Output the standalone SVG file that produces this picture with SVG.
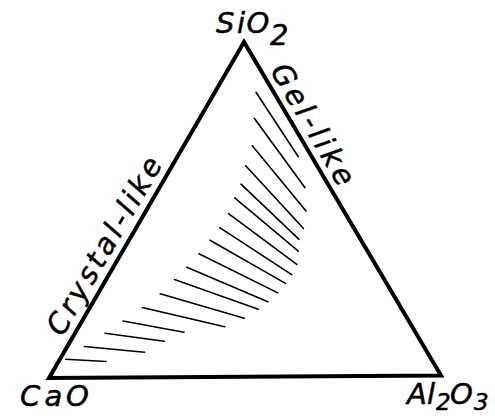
<svg xmlns="http://www.w3.org/2000/svg" width="495" height="416" viewBox="0 0 495 416">
<style>
.lbl{font-family:"DejaVu Sans","Liberation Sans",sans-serif;font-style:italic;font-size:29px;fill:#000;stroke:#000;stroke-width:0.5}
.sub{font-size:23px}
.hatch line{stroke:#000;stroke-width:1.6;stroke-linecap:round}
</style>
<rect width="495" height="416" fill="#fff"/>
<g id="triangle">
<polygon points="244,42 49,378 441,375.5" fill="none" stroke="#000" stroke-width="4" stroke-linejoin="miter"/>
</g>
<g id="hatch" class="hatch">
<line x1="65.7" y1="359.3" x2="106" y2="361.5"/>
<line x1="84.3" y1="346.5" x2="144.5" y2="352.2"/>
<line x1="105" y1="333.2" x2="164.3" y2="341.2"/>
<line x1="123" y1="321" x2="184" y2="332.2"/>
<line x1="142.3" y1="307.5" x2="224.7" y2="326.7"/>
<line x1="160.2" y1="293.8" x2="244.3" y2="318.3"/>
<line x1="174.5" y1="279.6" x2="258.3" y2="309.3"/>
<line x1="186.8" y1="267.3" x2="267.8" y2="301.7"/>
<line x1="199" y1="253.7" x2="277.8" y2="292.9"/>
<line x1="210" y1="240.2" x2="285.5" y2="283.4"/>
<line x1="219.7" y1="227.6" x2="291.7" y2="274.6"/>
<line x1="228.5" y1="213.6" x2="296.8" y2="264.3"/>
<line x1="234.7" y1="197.8" x2="298.3" y2="251.2"/>
<line x1="241" y1="184.2" x2="299" y2="239.3"/>
<line x1="245.7" y1="165.8" x2="303.3" y2="228.3"/>
<line x1="252.3" y1="145.8" x2="306" y2="211"/>
<line x1="254.3" y1="118.3" x2="305" y2="187.7"/>
<line x1="256" y1="92.3" x2="298.3" y2="156.7"/>
</g>
<g id="SiO2"><text class="lbl" y="33"><tspan x="216">S</tspan><tspan x="237">i</tspan><tspan x="246.5">O</tspan><tspan x="270" y="45">2</tspan></text></g>
<g id="CaO"><text class="lbl" y="405.5"><tspan x="20">C</tspan><tspan x="44.5">a</tspan><tspan x="66">O</tspan></text></g>
<g id="Al2O3"><text class="lbl" y="403.5"><tspan x="407">A</tspan><tspan x="427">l</tspan><tspan class="sub" x="436" y="410">2</tspan><tspan x="450" y="403.5">O</tspan><tspan class="sub" x="474" y="410">3</tspan></text></g>
<g id="gel-like"><text class="lbl" letter-spacing="3.8" transform="translate(269.8,70.8) rotate(59.43)">Gel-like</text></g>
<g id="crystal-like"><text class="lbl" letter-spacing="3.4" transform="translate(62.5,337.5) rotate(-59.87)">Crystal-like</text></g>
</svg>
